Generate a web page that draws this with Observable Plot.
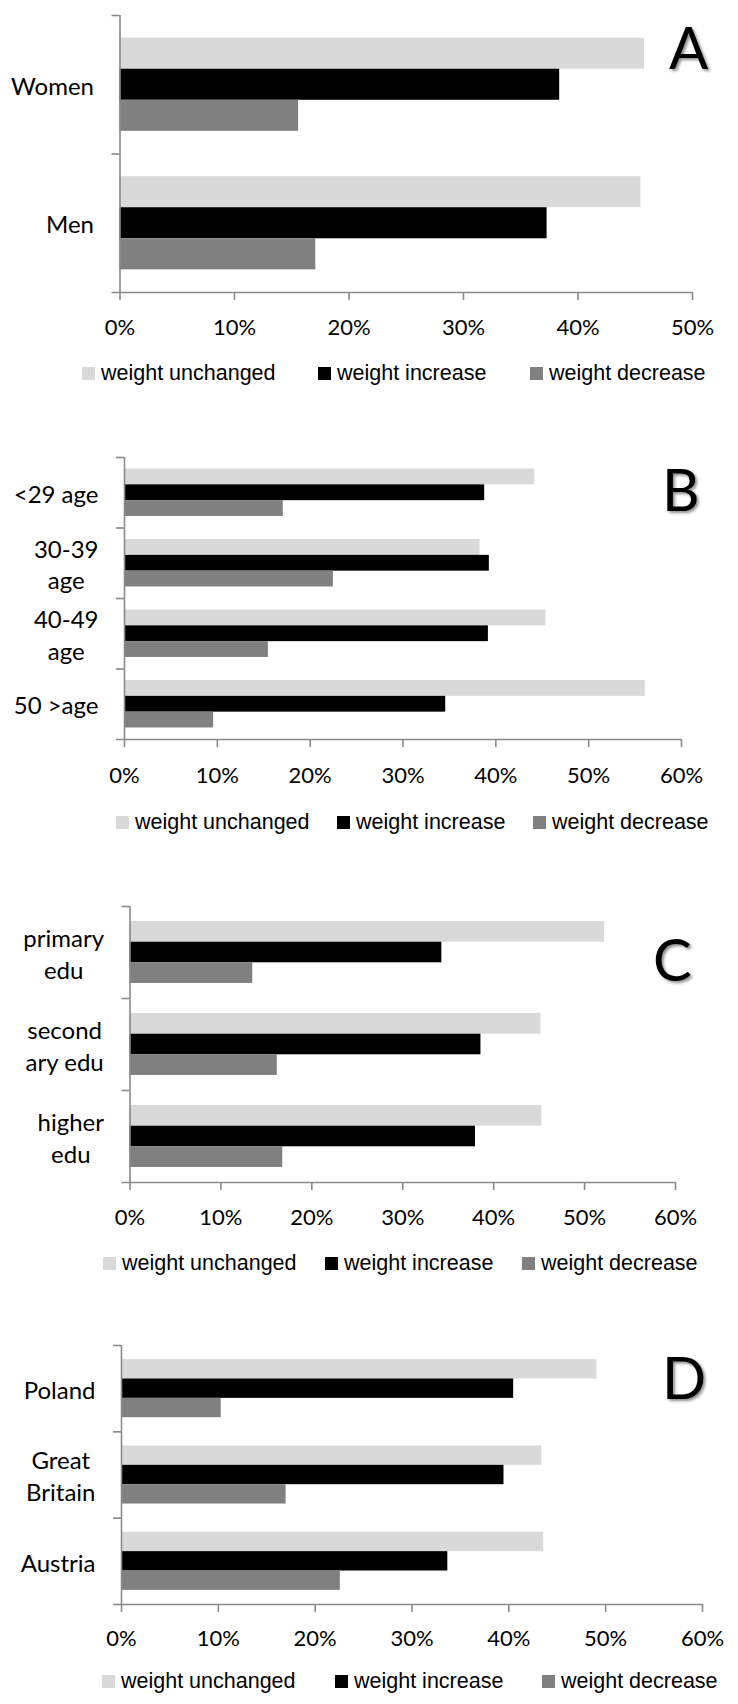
<!DOCTYPE html>
<html>
<head>
<meta charset="utf-8">
<script src="https://cdn.jsdelivr.net/npm/d3@7"></script>
<script src="https://cdn.jsdelivr.net/npm/@observablehq/plot@0.6"></script>
<style>
  html, body { margin: 0; padding: 0; background: #fff; }
  body { width: 738px; height: 1704px; position: relative; overflow: hidden; font-family: Lato, sans-serif; }
  .panel { position: absolute; left: 0; }
  .letter { position: absolute; font-family: Lato, sans-serif; font-size: 58px; line-height: 1; color: #000;
            text-shadow: 2px 2px 3px rgba(0,0,0,0.45); }
  .lg { position: absolute; display: flex; align-items: center; font-family: "Liberation Sans", Arial, sans-serif;
        font-size: 21.5px; color: #000; white-space: nowrap; height: 26px; }
  .sw { width: 13px; height: 13px; margin-right: 6px; flex: none; }
</style>
</head>
<body>
<script>
// ---------------- data ----------------
const series = ["weight unchanged", "weight increase", "weight decrease"];
const seriesColors = ["#d9d9d9", "#000000", "#808080"];

const genderCategories = ["Women", "Men"];
const genderUnchanged = [45.8, 45.5];
const genderIncrease = [38.4, 37.3];
const genderDecrease = [15.6, 17.1];
const genderTicks = [0, 10, 20, 30, 40, 50];

const ageCategories = ["<29 age", "30-39\nage", "40-49\nage", "50 >age"];
const ageUnchanged = [44.2, 38.3, 45.4, 56.1];
const ageIncrease = [38.8, 39.3, 39.2, 34.6];
const ageDecrease = [17.1, 22.5, 15.5, 9.6];
const ageTicks = [0, 10, 20, 30, 40, 50, 60];

const eduCategories = ["primary\nedu", "second\nary edu", "higher\nedu"];
const eduUnchanged = [52.2, 45.2, 45.3];
const eduIncrease = [34.3, 38.6, 38.0];
const eduDecrease = [13.5, 16.2, 16.8];
const eduTicks = [0, 10, 20, 30, 40, 50, 60];

const countryCategories = ["Poland", "Great\nBritain", "Austria"];
const countryUnchanged = [49.1, 43.4, 43.6];
const countryIncrease = [40.5, 39.5, 33.7];
const countryDecrease = [10.3, 17.0, 22.6];
const countryTicks = [0, 10, 20, 30, 40, 50, 60];

const panelLetters = ["A", "B", "C", "D"];

// ---------------- helpers ----------------
function rows(cats, u, inc, dec) {
  return cats.flatMap((c, k) => [
    {cat: c, series: series[0], value: u[k]},
    {cat: c, series: series[1], value: inc[k]},
    {cat: c, series: series[2], value: dec[k]}
  ]);
}

const W = 738;
const axisColor = "#8a8a8a";
const canvas = document.createElement("canvas");
const ctx = canvas.getContext("2d");
function measure(s, font) { ctx.font = font; return ctx.measureText(s).width; }

const panels = [
  {letter: panelLetters[0], cats: genderCategories, data: rows(genderCategories, genderUnchanged, genderIncrease, genderDecrease),
   ticks: genderTicks, left: 119.5, right: 692, top: 15, bottom: 292, pad: 19,
   legendY: 373, legendX: [82, 318, 530], letterX: 669, letterTop: 28},
  {letter: panelLetters[1], cats: ageCategories, data: rows(ageCategories, ageUnchanged, ageIncrease, ageDecrease),
   ticks: ageTicks, left: 124, right: 681, top: 457, bottom: 739, pad: 20,
   legendY: 822, legendX: [116, 337, 533], letterX: 662, letterTop: 470},
  {letter: panelLetters[2], cats: eduCategories, data: rows(eduCategories, eduUnchanged, eduIncrease, eduDecrease),
   ticks: eduTicks, left: 129.5, right: 675, top: 906, bottom: 1182, pad: 19,
   legendY: 1263, legendX: [103, 325, 522], letterX: 653, letterTop: 940},
  {letter: panelLetters[3], cats: countryCategories, data: rows(countryCategories, countryUnchanged, countryIncrease, countryDecrease),
   ticks: countryTicks, left: 121, right: 702, top: 1345, bottom: 1604, pad: 18,
   legendY: 1681, legendX: [102, 335, 542], letterX: 662, letterTop: 1358}
];

function drawPanel(p) {
  const n = p.cats.length;
  const po = 0.73;
  const facetH = (p.bottom - p.top) / n;
  const step = facetH / (3 + 2 * po);
  const off = (po + 0.5) * step;
  const mt = 10, mb = 50;
  const xMax = p.ticks[p.ticks.length - 1];
  const labelFont = "24px Lato";

  const labelMarks = p.cats.map(c => {
    const w = Math.max(...c.split("\n").map(s => measure(s, labelFont)));
    return Plot.text([c], {
      fy: d => d, frameAnchor: "left", text: d => d, textAnchor: "middle",
      dx: -(26 + w / 2), fontSize: 24, lineHeight: 1.33, fill: "#000"
    });
  });

  const svg = Plot.plot({
    width: W,
    height: (p.bottom - p.top) + mt + mb,
    marginLeft: p.left, marginRight: W - p.right, marginTop: mt, marginBottom: mb,
    style: {fontFamily: "Lato, sans-serif", background: "transparent", overflow: "visible", color: "#000"},
    x: {domain: [0, xMax]},
    fy: {domain: p.cats, padding: 0, round: false, axis: null, label: null},
    y: {domain: series, paddingInner: 0, paddingOuter: po, round: false, axis: null, label: null},
    color: {domain: series, range: seriesColors},
    marks: [
      Plot.barX(p.data, {fy: "cat", y: "series", x: "value", fill: "series"}),
      Plot.ruleX([0], {stroke: axisColor, strokeWidth: 1.6}),
      Plot.ruleY([series[0]], {y: d => d, x1: 0, x2: 0, insetLeft: -8, dy: -off, stroke: axisColor, strokeWidth: 1.6}),
      Plot.ruleY([series[2]], {y: d => d, fy: () => p.cats[n - 1], x1: 0, x2: xMax, insetLeft: -8, dy: off, stroke: axisColor, strokeWidth: 1.6}),
      Plot.axisX({anchor: "bottom", ticks: p.ticks, tickFormat: d => d + "%", tickSize: 8, tickPadding: p.pad,
                  fontSize: 22, stroke: axisColor, strokeWidth: 1.6, label: null}),
      ...labelMarks
    ]
  });

  const div = document.createElement("div");
  div.className = "panel";
  div.style.top = (p.top - mt) + "px";
  div.appendChild(svg);
  document.body.appendChild(div);

  // panel letter
  const L = document.createElement("div");
  L.className = "letter";
  L.textContent = p.letter;
  L.style.left = p.letterX + "px";
  L.style.top = (p.letterTop - 10) + "px";
  document.body.appendChild(L);

  // legend
  series.forEach((s, k) => {
    const item = document.createElement("div");
    item.className = "lg";
    item.style.left = p.legendX[k] + "px";
    item.style.top = (p.legendY - 13) + "px";
    const sw = document.createElement("span");
    sw.className = "sw";
    sw.style.background = seriesColors[k];
    const t = document.createElement("span");
    t.textContent = s;
    item.appendChild(sw);
    item.appendChild(t);
    document.body.appendChild(item);
  });
}

panels.forEach(drawPanel);
</script>
</body>
</html>
